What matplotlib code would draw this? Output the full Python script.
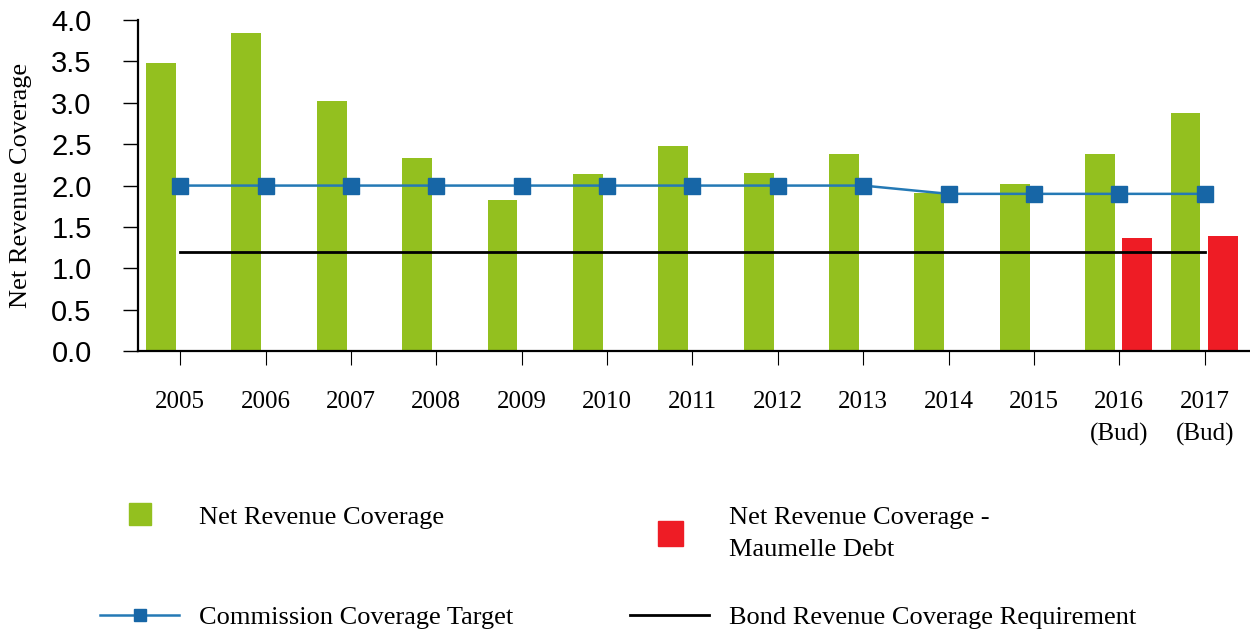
import numpy as np
import matplotlib
matplotlib.use("Agg")
import matplotlib.pyplot as plt
from matplotlib.lines import Line2D

# ── Data ─────────────────────────────────────────────
years = ["2005", "2006", "2007", "2008", "2009", "2010", "2011",
         "2012", "2013", "2014", "2015", "2016\n(Bud)", "2017\n(Bud)"]
net_coverage = [3.48, 3.84, 3.02, 2.33, 1.82, 2.14, 2.48,
                2.15, 2.38, 1.91, 2.02, 2.38, 2.88]
maumelle_years = ["2016\n(Bud)", "2017\n(Bud)"]
maumelle_coverage = [1.37, 1.39]
target = [2.0, 2.0, 2.0, 2.0, 2.0, 2.0, 2.0, 2.0, 2.0, 1.9, 1.9, 1.9, 1.9]
bond_requirement = 1.2

GREEN = "#93c01f"
RED = "#ee1c25"
BLUE_LINE = "#2479b5"
BLUE_MARK = "#1766a6"

SERIF = "Liberation Serif"
SANS = "Liberation Sans"

# ── Figure ───────────────────────────────────────────
fig = plt.figure(figsize=(12.5, 6.35), dpi=100)
ax = fig.add_axes([0.110, 0.447, 0.890, 0.5215])

x = np.arange(len(years))
bar_w = 0.35
ax.bar(x - 0.225, net_coverage, width=bar_w, color=GREEN, zorder=2)
red_x = np.array([years.index(y) for y in maumelle_years])
ax.bar(red_x + 0.21, maumelle_coverage, width=bar_w, color=RED, zorder=2)

ax.plot(x, target, color=BLUE_LINE, lw=1.8, marker="s", ms=11,
        mfc=BLUE_MARK, mec=BLUE_MARK, zorder=4)
ax.plot([x[0], x[-1]], [bond_requirement, bond_requirement],
        color="black", lw=2.0, zorder=3)

ax.set_xlim(-0.5, 12.53)
ax.set_ylim(0, 4.0)
ax.set_yticks(np.arange(0, 4.01, 0.5))
ax.set_yticklabels([f"{v:.1f}" for v in np.arange(0, 4.01, 0.5)],
                   fontfamily=SANS, fontsize=21)
ax.set_xticks(x)
ax.set_xticklabels(years, fontfamily=SERIF, fontsize=18, linespacing=1.55)

ax.tick_params(axis="y", direction="out", length=11, width=1.0, pad=22)
ax.tick_params(axis="x", direction="out", length=10, width=0.8, pad=19)
for side in ("top", "right"):
    ax.spines[side].set_visible(False)
for side in ("left", "bottom"):
    ax.spines[side].set_linewidth(1.6)

ax.set_ylabel("Net Revenue Coverage", fontfamily=SERIF, fontsize=19)
ax.yaxis.set_label_coords(-0.095, 0.5)

# ── Legend, one entry per box so rows line up ────────
legend_kw = dict(frameon=False, loc="center left", borderpad=0,
                 borderaxespad=0, handlelength=3.0, handletextpad=0.76,
                 numpoints=1, prop={"family": SERIF, "size": 19})

entries = [
    (Line2D([], [], ls="none", marker="s", ms=16, color=GREEN),
     "Net Revenue Coverage", (0.080, 0.186)),
    (Line2D([], [], ls="none", marker="s", ms=18, color=RED),
     "Net Revenue Coverage -\nMaumelle Debt", (0.504, 0.159)),
    (Line2D([], [], color=BLUE_LINE, lw=1.8, marker="s", ms=9,
            mfc=BLUE_MARK, mec=BLUE_MARK),
     "Commission Coverage Target", (0.080, 0.028)),
    (Line2D([], [], color="black", lw=2.0),
     "Bond Revenue Coverage Requirement", (0.504, 0.028)),
]
for handle, label, anchor in entries:
    leg = fig.legend([handle], [label], bbox_to_anchor=anchor, **legend_kw)
    for t in leg.get_texts():
        t.set_linespacing(1.55)

fig.savefig("out.png", dpi=100)
